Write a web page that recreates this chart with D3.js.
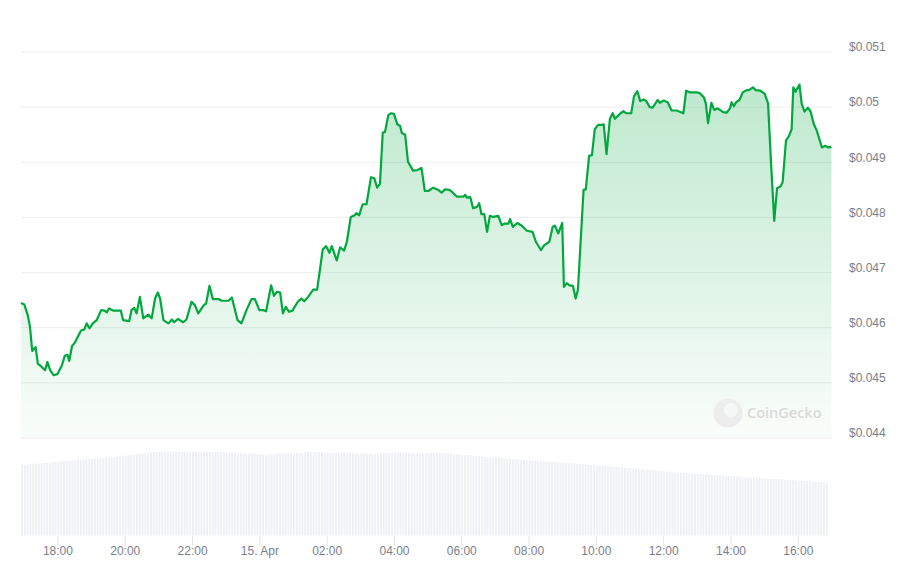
<!DOCTYPE html>
<html>
<head>
<meta charset="utf-8">
<script src="https://cdn.jsdelivr.net/npm/d3@7"></script>
<style>
  html, body { margin: 0; padding: 0; background: #fff; }
  svg { display: block; font-family: "Open Sans", "DejaVu Sans", sans-serif; }
</style>
</head>
<body>
<svg id="chart" width="904" height="568"></svg>
<script>
// price samples (local time, starting 14 Apr)
const priceTimes = [
  "16:55","17:01","17:07","17:11","17:15","17:21","17:25","17:32","17:38","17:42","17:47","17:53",
  "18:00","18:08","18:13","18:18","18:21","18:26","18:31","18:37","18:42","18:48","18:52","18:57",
  "19:03","19:10","19:18","19:24","19:28","19:32","19:40","19:53","19:57","20:08","20:12","20:17",
  "20:21","20:27","20:33","20:42","20:48","20:54","20:59","21:03","21:09","21:18","21:24","21:28",
  "21:35","21:44","21:50","21:59","22:05","22:11","22:21","22:25","22:31","22:37","22:47","22:53",
  "23:05","23:11","23:21","23:28","23:37","23:46","23:52","00:00","00:07","00:12","00:21","00:26",
  "00:31","00:37","00:42","00:47","00:53","00:59","01:09","01:15","01:20","01:27","01:36","01:43",
  "01:53","01:59","02:05","02:09","02:18","02:24","02:31","02:36","02:43","02:50","02:53","02:58",
  "03:04","03:11","03:19","03:25","03:30","03:35","03:40","03:44","03:50","03:55","04:00","04:06",
  "04:11","04:14","04:20","04:25","04:34","04:42","04:49","04:55","05:01","05:10","05:19","05:25",
  "05:31","05:39","05:45","05:52","06:04","06:07","06:10","06:16","06:21","06:28","06:32","06:36",
  "06:41","06:46","06:51","06:57","07:06","07:12","07:18","07:24","07:27","07:32","07:40","07:48",
  "07:57","08:07","08:13","08:22","08:28","08:37","08:43","08:47","08:53","09:00","09:03","09:08",
  "09:13","09:19","09:24","09:28","09:38","09:42","09:48","09:53","09:58","10:04","10:12","10:14",
  "10:19","10:25","10:30","10:34","10:43","10:49","10:54","11:03","11:08","11:14","11:19","11:25",
  "11:30","11:36","11:41","11:50","11:54","12:01","12:08","12:15","12:24","12:36","12:41","12:47",
  "13:00","13:06","13:13","13:16","13:20","13:26","13:31","13:37","13:47","13:53","13:59","14:02",
  "14:06","14:10","14:16","14:22","14:29","14:33","14:40","14:45","14:53","15:01","15:07","15:12",
  "15:18","15:23","15:29","15:33","15:39","15:44","15:49","15:52","15:56","16:03","16:07","16:12",
  "16:18","16:23","16:28","16:34","16:43","16:49","16:54","17:00"
];

const priceValues = [
  0.04644,0.04641,0.04622,0.04601,0.04557,0.04564,0.04534,0.04528,0.04522,0.04537,0.04522,0.04513,
  0.04515,0.04531,0.04548,0.04550,0.04539,0.04566,0.04572,0.04584,0.04594,0.04596,0.04607,0.04598,
  0.04607,0.04613,0.04631,0.04630,0.04627,0.04634,0.04630,0.04630,0.04613,0.04611,0.04631,0.04635,
  0.04625,0.04655,0.04616,0.04623,0.04616,0.04652,0.04663,0.04652,0.04613,0.04607,0.04614,0.04609,
  0.04615,0.04609,0.04614,0.04646,0.04640,0.04625,0.04640,0.04643,0.04675,0.04651,0.04651,0.04648,
  0.04648,0.04654,0.04613,0.04607,0.04631,0.04651,0.04651,0.04631,0.04631,0.04629,0.04676,0.04657,
  0.04664,0.04663,0.04625,0.04637,0.04628,0.04630,0.04647,0.04652,0.04647,0.04655,0.04668,0.04668,
  0.04741,0.04747,0.04735,0.04747,0.04721,0.04745,0.04739,0.04755,0.04800,0.04803,0.04807,0.04803,
  0.04823,0.04823,0.04872,0.04870,0.04853,0.04860,0.04953,0.04954,0.04985,0.04988,0.04987,0.04968,
  0.04965,0.04952,0.04949,0.04900,0.04884,0.04885,0.04889,0.04847,0.04847,0.04853,0.04849,0.04844,
  0.04850,0.04849,0.04844,0.04837,0.04837,0.04840,0.04835,0.04836,0.04816,0.04818,0.04825,0.04805,
  0.04805,0.04773,0.04802,0.04800,0.04802,0.04785,0.04788,0.04788,0.04796,0.04782,0.04789,0.04784,
  0.04775,0.04773,0.04755,0.04740,0.04749,0.04755,0.04782,0.04784,0.04770,0.04789,0.04673,0.04680,
  0.04676,0.04675,0.04652,0.04668,0.04849,0.04850,0.04911,0.04912,0.04959,0.04967,0.04967,0.04968,
  0.04914,0.04978,0.04988,0.04978,0.04987,0.04992,0.04988,0.04988,0.05019,0.05028,0.05010,0.05013,
  0.05010,0.04999,0.04998,0.05012,0.05007,0.05011,0.05008,0.04993,0.04993,0.04988,0.05029,0.05026,
  0.05026,0.05024,0.05016,0.05006,0.04970,0.05007,0.04994,0.04997,0.04990,0.04989,0.04997,0.05008,
  0.05001,0.05008,0.05012,0.05026,0.05030,0.05030,0.05035,0.05030,0.05029,0.05023,0.05006,0.04903,
  0.04793,0.04852,0.04855,0.04863,0.04939,0.04946,0.04959,0.05035,0.05027,0.05040,0.05005,0.04991,
  0.04998,0.04991,0.04970,0.04956,0.04926,0.04929,0.04926,0.04927
];

// volume bars, one every 5 minutes from 16:55 (arbitrary units, no axis shown)
const volumeStart = "16:55";
const volumeValues = [
  7.10,7.10,7.15,7.20,7.20,7.20,7.25,7.25,7.30,7.30,7.30,7.35,
  7.40,7.40,7.45,7.45,7.50,7.50,7.50,7.55,7.60,7.60,7.65,7.65,
  7.70,7.70,7.75,7.75,7.80,7.80,7.85,7.85,7.90,7.90,7.95,7.95,
  8.00,8.00,8.05,8.10,8.10,8.15,8.20,8.20,8.25,8.30,8.35,8.35,
  8.40,8.40,8.42,8.42,8.42,8.42,8.42,8.42,8.40,8.40,8.40,8.42,
  8.42,8.42,8.40,8.40,8.38,8.38,8.40,8.40,8.38,8.36,8.38,8.38,
  8.30,8.30,8.28,8.25,8.25,8.25,8.22,8.22,8.20,8.20,8.20,8.20,
  8.15,8.15,8.10,8.10,8.15,8.20,8.20,8.22,8.25,8.25,8.25,8.25,
  8.25,8.25,8.30,8.30,8.30,8.35,8.35,8.38,8.38,8.36,8.35,8.32,
  8.30,8.28,8.25,8.25,8.25,8.28,8.30,8.30,8.30,8.28,8.25,8.22,
  8.20,8.20,8.20,8.20,8.20,8.20,8.18,8.18,8.20,8.22,8.25,8.25,
  8.28,8.28,8.28,8.28,8.28,8.25,8.25,8.25,8.25,8.25,8.25,8.25,
  8.25,8.25,8.28,8.28,8.28,8.26,8.25,8.24,8.22,8.20,8.18,8.15,
  8.12,8.10,8.08,8.05,8.02,8.00,7.98,7.95,7.92,7.90,7.88,7.86,
  7.84,7.82,7.80,7.78,7.75,7.72,7.70,7.68,7.66,7.64,7.62,7.60,
  7.58,7.56,7.54,7.50,7.48,7.46,7.44,7.42,7.40,7.38,7.36,7.34,
  7.32,7.30,7.28,7.26,7.24,7.22,7.20,7.18,7.16,7.14,7.10,7.08,
  7.06,7.04,7.02,7.00,6.98,6.95,6.92,6.90,6.88,6.85,6.82,6.80,
  6.78,6.75,6.72,6.70,6.68,6.65,6.62,6.60,6.58,6.55,6.52,6.50,
  6.48,6.45,6.42,6.40,6.38,6.35,6.32,6.30,6.28,6.25,6.22,6.20,
  6.20,6.18,6.16,6.15,6.12,6.10,6.10,6.08,6.06,6.05,6.02,6.00,
  5.98,5.96,5.95,5.92,5.90,5.88,5.86,5.85,5.82,5.80,5.78,5.76,
  5.75,5.72,5.70,5.70,5.68,5.66,5.64,5.62,5.60,5.60,5.58,5.55,
  5.52,5.50,5.50,5.48,5.46,5.44,5.42,5.40,5.38,5.36,5.34,5.30
];

const priceTicks = [0.044, 0.045, 0.046, 0.047, 0.048, 0.049, 0.05, 0.051];
const timeDomain = ["16:55", "17:01"]; // 14 Apr -> 15 Apr

const lineColor = "#00a83e";

//========================================================================

const parseClock = d3.timeParse("%Y-%m-%d %H:%M");

// times run forward, so a drop in clock time means the next day
function toDates(list, firstDay) {
    let day = firstDay;
    let prev = -1;
    return list.map(t => {
        const [h, m] = t.split(":").map(Number);
        const mins = h * 60 + m;
        if (mins < prev) day += 1;
        prev = mins;
        return parseClock("2024-04-" + day + " " + t);
    });
}

const dates = toDates(priceTimes, 14);
const data = dates.map((d, i) => ({ date: d, price: priceValues[i] }));

const start = parseClock("2024-04-14 " + timeDomain[0]);
const end = parseClock("2024-04-15 " + timeDomain[1]);
const volStart = parseClock("2024-04-14 " + volumeStart);
const volData = volumeValues.map((v, i) => ({ date: d3.timeMinute.offset(volStart, i * 5), v: v }));

const svg = d3.select("#chart");

const xScale = d3.scaleTime().domain([start, end]).range([21, 832]);
const yScale = d3.scaleLinear().domain([0.044, 0.051]).range([437.5, 51.5]);
const vScale = d3.scaleLinear().domain([0, 10]).range([535.7, 435.7]);

// gradient under the price line
const defs = svg.append("defs");
const grad = defs.append("linearGradient")
    .attr("id", "areaFill")
    .attr("gradientUnits", "userSpaceOnUse")
    .attr("x1", 0).attr("y1", 80).attr("x2", 0).attr("y2", 437);
grad.append("stop").attr("offset", "0%").attr("stop-color", lineColor).attr("stop-opacity", 0.26);
grad.append("stop").attr("offset", "100%").attr("stop-color", lineColor).attr("stop-opacity", 0.02);

// volume bars
const barStep = xScale(d3.timeMinute.offset(start, 5)) - xScale(start);
svg.append("g").selectAll("rect")
    .data(volData)
    .enter()
    .append("rect")
    .attr("x", d => xScale(d.date))
    .attr("y", d => vScale(d.v))
    .attr("width", barStep * 0.68)
    .attr("height", d => vScale(0) - vScale(d.v))
    .attr("fill", "#eef0f3");

// grid lines + right axis
const yAxis = d3.axisRight(yScale)
    .tickValues(priceTicks)
    .tickSize(-811)
    .tickPadding(17)
    .tickFormat(d => "$" + (+d.toFixed(3)));

const yAxisG = svg.append("g")
    .attr("class", "yAxis")
    .attr("transform", "translate(832,0)")
    .call(yAxis);
yAxisG.select(".domain").remove();
yAxisG.selectAll("line").attr("stroke", "#eeeeee");
yAxisG.selectAll("text")
    .attr("fill", "#7a808b")
    .attr("font-size", "12px")
    .attr("dy", "-0.06em");

// area + line
const area = d3.area()
    .x(d => xScale(d.date))
    .y0(yScale(0.044))
    .y1(d => yScale(d.price));

const line = d3.line()
    .x(d => xScale(d.date))
    .y(d => yScale(d.price));

svg.append("path")
    .attr("d", area(data))
    .attr("fill", "url(#areaFill)");

svg.append("path")
    .attr("d", line(data))
    .attr("fill", "none")
    .attr("stroke", lineColor)
    .attr("stroke-width", 2.2)
    .attr("stroke-linejoin", "round");

// watermark
const mark = svg.append("g").attr("opacity", 0.9);
mark.append("circle").attr("cx", 728).attr("cy", 413).attr("r", 14.5).attr("fill", "#ececec");
mark.append("circle").attr("cx", 731).attr("cy", 410).attr("r", 7).attr("fill", "#f7f7f7");
mark.append("text")
    .attr("x", 747).attr("y", 418)
    .attr("font-size", "14.5px")
    .attr("font-weight", 600)
    .attr("fill", "#d6d6d6")
    .text("CoinGecko");

// bottom time axis
const fmtTime = d3.timeFormat("%H:%M");
const fmtDay = d3.timeFormat("%-d. %b");
const xAxis = d3.axisBottom(xScale)
    .ticks(d3.timeHour.every(2))
    .tickSize(10)
    .tickPadding(4)
    .tickFormat(d => (d.getHours() === 0 ? fmtDay(d) : fmtTime(d)));

const xAxisG = svg.append("g")
    .attr("class", "xAxis")
    .attr("transform", "translate(0,536)")
    .call(xAxis);
xAxisG.select(".domain").remove();
xAxisG.selectAll("line").attr("stroke", "#e6e6e6");
xAxisG.selectAll("text")
    .attr("fill", "#7a808b")
    .attr("font-size", "12px")
    .attr("y", 10);
</script>
</body>
</html>
